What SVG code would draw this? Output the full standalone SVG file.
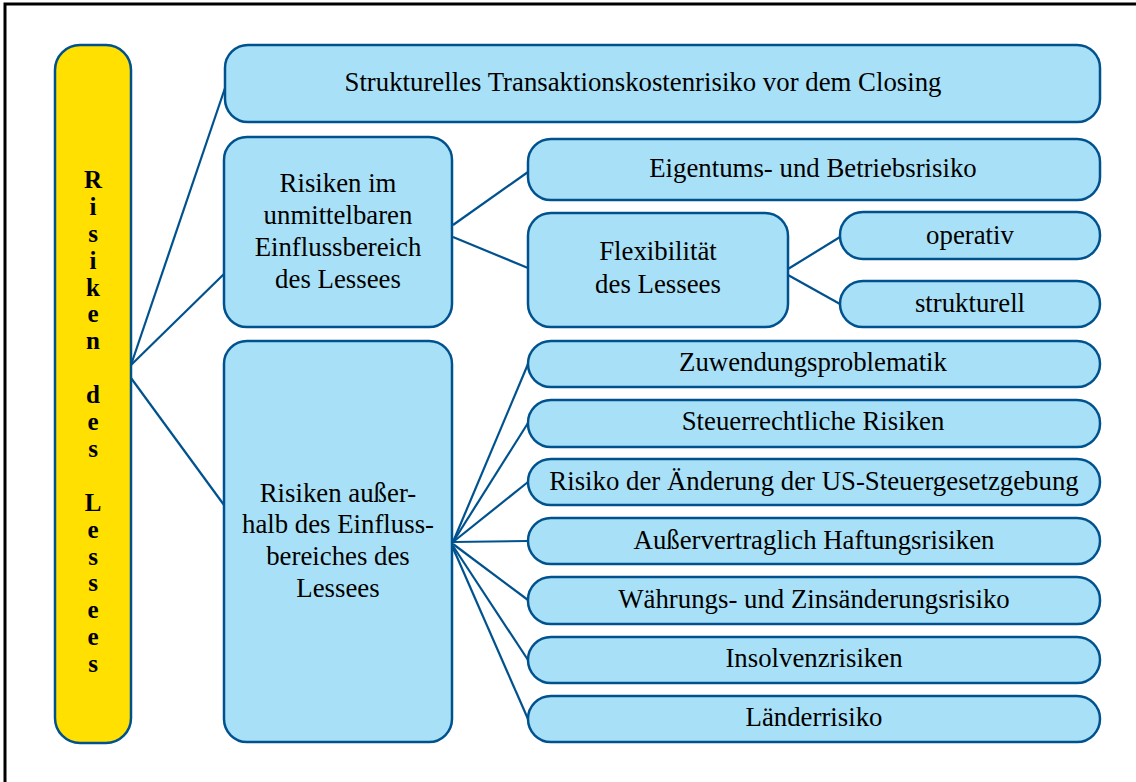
<svg xmlns="http://www.w3.org/2000/svg" width="1136" height="782" viewBox="0 0 1136 782">
  <style>
    .frame { fill: #ffffff; stroke: #000000; stroke-width: 3; }
    .box { fill: #A8E1F7; stroke: #00528F; stroke-width: 2.5; }
    .root { fill: #FFE000; stroke: #00528F; stroke-width: 2.5; }
    .link { fill: none; stroke: #00528F; stroke-width: 2.2; }
    text { font-family: 'Liberation Serif', 'DejaVu Serif', serif; font-size: 26.8px; fill: #000000; text-anchor: middle; }
    .bold { font-weight: bold; font-size: 25px; }
  </style>

  <rect class="frame" x="5" y="4" width="1140" height="800"/>

  <!-- connectors -->
  <g id="connectors">
    <path class="link" d="M131,365 L225,88"/>
    <path class="link" d="M131,365 L225,273"/>
    <path class="link" d="M131,378 L224,505"/>
    <path class="link" d="M453,225 L528,172"/>
    <path class="link" d="M453,237 L528,268"/>
    <path class="link" d="M788,269 L840,237"/>
    <path class="link" d="M788,275 L840,304"/>
    <path class="link" d="M453,542 L528,364"/>
    <path class="link" d="M453,542 L528,423"/>
    <path class="link" d="M453,542 L528,482"/>
    <path class="link" d="M453,542 L528,541"/>
    <path class="link" d="M453,544 L528,600"/>
    <path class="link" d="M453,546 L528,660"/>
    <path class="link" d="M453,548 L528,719"/>
  </g>

  <!-- root: vertical title -->
  <g id="root">
    <rect class="root" x="55" y="45" width="76" height="698" rx="25"/>
    <text class="bold" x="93" y="188">R</text>
    <text class="bold" x="93" y="215">i</text>
    <text class="bold" x="93" y="242">s</text>
    <text class="bold" x="93" y="269">i</text>
    <text class="bold" x="93" y="296">k</text>
    <text class="bold" x="93" y="322">e</text>
    <text class="bold" x="93" y="349">n</text>
    <text class="bold" x="93" y="403">d</text>
    <text class="bold" x="93" y="430">e</text>
    <text class="bold" x="93" y="457">s</text>
    <text class="bold" x="93" y="511">L</text>
    <text class="bold" x="93" y="538">e</text>
    <text class="bold" x="93" y="565">s</text>
    <text class="bold" x="93" y="591">s</text>
    <text class="bold" x="93" y="618">e</text>
    <text class="bold" x="93" y="645">e</text>
    <text class="bold" x="93" y="672">s</text>
  </g>

  <g id="closing">
    <rect class="box" x="225" y="45" width="875" height="77" rx="23"/>
    <text x="643" y="91">Strukturelles Transaktionskostenrisiko vor dem Closing</text>
  </g>

  <g id="intern">
    <rect class="box" x="224" y="137" width="228" height="190" rx="23"/>
    <text x="338" y="192">Risiken im</text>
    <text x="338" y="224">unmittelbaren</text>
    <text x="338" y="256">Einflussbereich</text>
    <text x="338" y="288">des Lessees</text>
  </g>

  <g id="extern">
    <rect class="box" x="224" y="341" width="228" height="401" rx="23"/>
    <text x="338" y="502">Risiken außer-</text>
    <text x="338" y="533">halb des Einfluss-</text>
    <text x="338" y="565">bereiches des</text>
    <text x="338" y="597">Lessees</text>
  </g>

  <g id="eigentum">
    <rect class="box" x="528" y="139" width="572" height="61" rx="23"/>
    <text x="813" y="177">Eigentums- und Betriebsrisiko</text>
  </g>

  <g id="flexibilitaet">
    <rect class="box" x="528" y="213" width="260" height="114" rx="23"/>
    <text x="658" y="260">Flexibilität</text>
    <text x="658" y="293">des Lessees</text>
  </g>

  <g id="operativ">
    <rect class="box" x="840" y="212" width="260" height="47" rx="23"/>
    <text x="970" y="244">operativ</text>
  </g>

  <g id="strukturell">
    <rect class="box" x="840" y="281" width="260" height="46" rx="23"/>
    <text x="970" y="312">strukturell</text>
  </g>

  <g id="zuwendung">
    <rect class="box" x="528" y="341" width="572" height="46" rx="23"/>
    <text x="813" y="371">Zuwendungsproblematik</text>
  </g>

  <g id="steuer">
    <rect class="box" x="528" y="400" width="572" height="47" rx="23"/>
    <text x="813" y="430">Steuerrechtliche Risiken</text>
  </g>

  <g id="us-steuer">
    <rect class="box" x="528" y="459" width="572" height="46" rx="23"/>
    <text x="814" y="490">Risiko der Änderung der US-Steuergesetzgebung</text>
  </g>

  <g id="haftung">
    <rect class="box" x="528" y="518" width="572" height="46" rx="23"/>
    <text x="814" y="549">Außervertraglich Haftungsrisiken</text>
  </g>

  <g id="waehrung">
    <rect class="box" x="528" y="577" width="572" height="47" rx="23"/>
    <text x="814" y="608">Währungs- und Zinsänderungsrisiko</text>
  </g>

  <g id="insolvenz">
    <rect class="box" x="528" y="637" width="572" height="46" rx="23"/>
    <text x="814" y="667">Insolvenzrisiken</text>
  </g>

  <g id="laender">
    <rect class="box" x="528" y="696" width="572" height="46" rx="23"/>
    <text x="814" y="726">Länderrisiko</text>
  </g>
</svg>
